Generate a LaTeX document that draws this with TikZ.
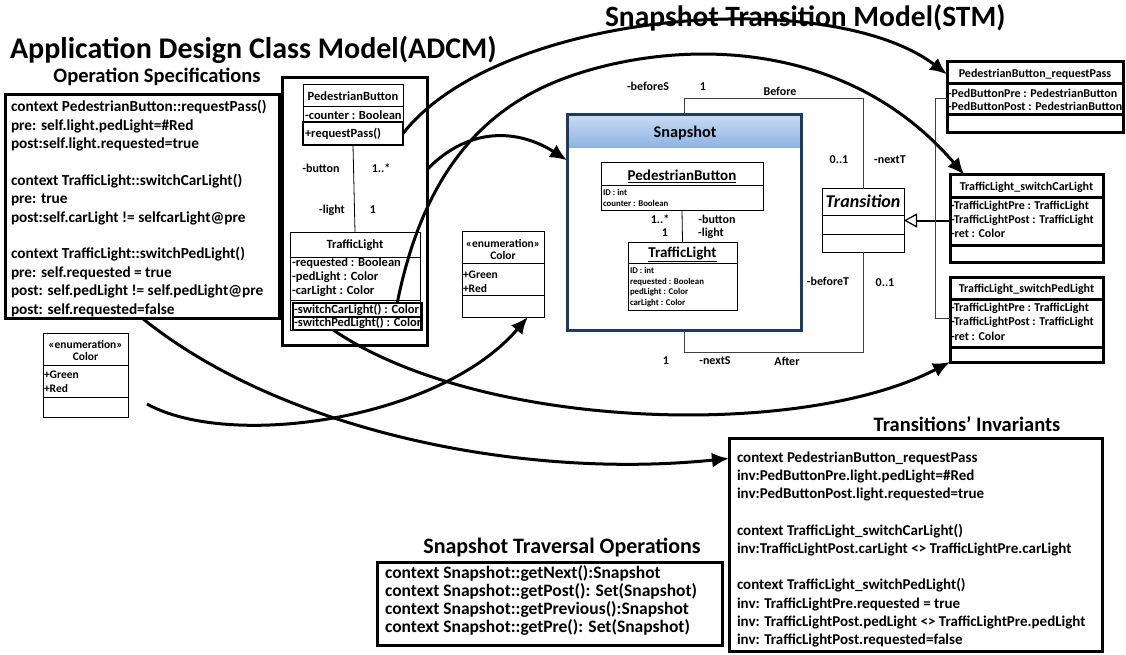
\documentclass[tikz,border=0pt]{standalone}
\usepackage{fontspec}
\setmainfont{Carlito}
\usetikzlibrary{arrows.meta}
\definecolor{navy}{HTML}{1F3A5F}
\definecolor{hdrtop}{HTML}{C9DBF2}
\definecolor{hdrbot}{HTML}{8DB3E2}
\definecolor{lgray}{HTML}{404040}
\newcommand{\myfs}[1]{\fontsize{#1}{#1}\selectfont\bfseries}
\begin{document}
\begin{tikzpicture}[x=1pt,y=-1pt,
  every node/.style={inner sep=0pt, outer sep=0pt},
  bx/.style={draw, anchor=north west, line width=#1},
  tx/.style={font=\myfs{#1}, anchor=base west},
  tc/.style={font=\myfs{#1}, anchor=base},
  arr/.style={line width=3pt, -{Latex[length=17pt,width=15pt]}},
  thinl/.style={line width=0.9pt, lgray}]
\useasboundingbox (0,0) rectangle (1126,655);
% titles
\node[tx=30] (tA) at (10,59) {Application Design Class Model(ADCM)};
\node[tx=29.5] (tS) at (605,27) {Snapshot Transition Model(STM)};
\node[tc=20.5] (tO) at (157,83) {Operation Specifications};
\node[tc=20.5] (tI) at (967,431.5) {Transitions’ Invariants};
\node[tc=22] (tT) at (562,553) {Snapshot Traversal Operations};
% operation specifications
\node[bx=3pt, minimum width=274pt, minimum height=223pt] (ops) at (5,95) {};
\foreach \yy/\tt [count=\i] in {112/{context PedestrianButton::requestPass()},
  130.4/{pre: self.light.pedLight=\#Red},
  148.7/{post:self.light.requested=true},
  185.5/{context TrafficLight::switchCarLight()},
  203.8/{pre: true},
  222.2/{post:self.carLight != selfcarLight@pre},
  258.9/{context TrafficLight::switchPedLight()},
  277.3/{pre: self.requested = true},
  295.6/{post: self.pedLight != self.pedLight@pre},
  314/{post: self.requested=false}}
  \node[tx=15.3] (os\i) at (11,\yy) {\tt};
% ADCM classes
\node[bx=3pt, minimum width=145pt, minimum height=267pt] (adcm) at (282,78) {};
\node[bx=1pt, minimum width=100pt, minimum height=37pt] (pb) at (303,85) {};
\draw[line width=1pt] (303,107) -- (403,107);
\node[bx=2.5pt, minimum width=100pt, minimum height=23pt] (pbm) at (303,122) {};
\node[tc=12.5] (pbn) at (353,100.8) {PedestrianButton};
\node[tx=12.5] (pba) at (305,119.8) {-counter : Boolean};
\node[tx=12.5] (pbo) at (305,137.8) {+requestPass()};
\node[bx=1pt, minimum width=130pt, minimum height=98pt] (tl) at (290,232) {};
\draw[line width=1pt] (290,257) -- (420,257) (290,300) -- (420,300);
\draw[line width=0.8pt] (pbm.south) -- (tl.north);
\node[tc=12] (l1) at (321,172.6) {-button};
\node[tc=12] (l2) at (381,172.6) {1..*};
\node[tc=12] (l3) at (332,213.6) {-light};
\node[tc=12] (l4) at (373,213.6) {1};
\node[tc=12.5] (tln) at (355,248.8) {TrafficLight};
\node[tx=12.5] (tla1) at (292,266.8) {-requested : Boolean};
\node[tx=12.5] (tla2) at (292,280.8) {-pedLight : Color};
\node[tx=12.5] (tla3) at (292,294.8) {-carLight : Color};
\node[bx=2.5pt, minimum width=129pt, minimum height=14pt] (tlm1) at (293,303) {};
\node[bx=2.5pt, minimum width=129pt, minimum height=13pt] (tlm2) at (293,317) {};
\node[tx=12.5] (tlo1) at (294,313.8) {\underline{-switchCarLight() : Color}};
\node[tx=12.5] (tlo2) at (294,326.8) {\underline{-switchPedLight() : Color}};
% enumerations
\node[bx=1pt, minimum width=85pt, minimum height=84pt] (enL) at (43,333) {};
\draw[line width=1pt] (43,365) -- (128,365) (43,397) -- (128,397);
\node[tc=11.5] (enL1) at (85.5,348.5) {«enumeration»};
\node[tc=11.5] (enL2) at (85.5,360.5) {Color};
\node[tx=11.5] (enL3) at (44,378.5) {+Green};
\node[tx=11.5] (enL4) at (44,392) {+Red};
\node[bx=1pt, minimum width=82pt, minimum height=86pt] (enM) at (462,231) {};
\draw[line width=1pt] (462,263) -- (544,263) (462,295) -- (544,295);
\node[tc=11.5] (enM1) at (503,247.5) {«enumeration»};
\node[tc=11.5] (enM2) at (503,259.5) {Color};
\node[tx=11.5] (enM3) at (463,278.5) {+Green};
\node[tx=11.5] (enM4) at (463,292.5) {+Red};
% snapshot
\shade[top color=hdrtop, bottom color=hdrbot] (567,115) rectangle (801,148);
\node[bx=3pt, draw=navy, minimum width=234pt, minimum height=215pt] (snap) at (567,115) {};
\node[tc=16.3] (snapn) at (685,137.9) {Snapshot};
\node[bx=1pt, minimum width=162pt, minimum height=47pt] (ipb) at (601,163) {};
\draw[line width=1pt] (601,186) -- (763,186);
\node[tc=15] (ipbn) at (682,180.5) {\underline{PedestrianButton}};
\node[tx=8.8] (ipb1) at (603,195.6) {ID : int};
\node[tx=8.8] (ipb2) at (603,206.6) {counter : Boolean};
\node[bx=1pt, minimum width=109pt, minimum height=68pt] (itl) at (628,242) {};
\draw[line width=1pt] (628,263) -- (737,263);
\node[tc=15] (itln) at (682.5,257.5) {\underline{TrafficLight}};
\node[tx=8.8] (itl1) at (630,273.6) {ID : int};
\node[tx=8.8] (itl2) at (630,284.1) {requested : Boolean};
\node[tx=8.8] (itl3) at (630,294.6) {pedLight : Color};
\node[tx=8.8] (itl4) at (630,305.1) {carLight : Color};
\draw[line width=0.8pt] (ipb.south) -- (itl.north);
\node[tc=12] (s1) at (660,223.6) {1..*};
\node[tc=12] (s2) at (665,236.6) {1};
\node[tc=12] (s3) at (717,223.6) {-button};
\node[tc=12] (s4) at (711,236.6) {-light};
% transition
\node[bx=1pt, minimum width=82pt, minimum height=63pt] (tr) at (822,189) {};
\draw[line width=1pt] (822,215) -- (904,215) (822,234) -- (904,234);
\node[font=\fontsize{18}{18}\selectfont\bfseries\itshape, anchor=base] (trn) at (863,207.4) {Transition};
\draw[thinl] (snap.north) -- ++(0,-17) -| (tr.north);
\draw[thinl] (snap.south) -- ++(0,22) -| (tr.south);
\node[tc=12] (a1) at (648,90.6) {-beforeS};
\node[tc=12] (a2) at (703,90.6) {1};
\node[tc=12] (a3) at (780,95.6) {Before};
\node[tc=12] (a4) at (839,163.6) {0..1};
\node[tc=12] (a5) at (890,163.6) {-nextT};
\node[tc=12] (a6) at (828,285.6) {-beforeT};
\node[tc=12] (a7) at (885,286.6) {0..1};
\node[tc=12] (a8) at (666,364.6) {1};
\node[tc=12] (a9) at (715,364.6) {-nextS};
\node[tc=12] (a10) at (787,365.6) {After};
% transition subclasses
\node[bx=3pt, minimum width=176pt, minimum height=71pt] (prp) at (947,62) {};
\draw[line width=3pt] (947,84) -- (1123,84) (947,115) -- (1123,115);
\node[tc=12] (prpn) at (1035,77.6) {PedestrianButton\_requestPass};
\node[tx=12] (prp1) at (948,97.6) {-PedButtonPre : PedestrianButton};
\node[tx=12] (prp2) at (948,110.6) {-PedButtonPost : PedestrianButton};
\node[bx=3pt, minimum width=153pt, minimum height=87pt] (tlc) at (950,175) {};
\draw[line width=3pt] (950,197) -- (1103,197) (950,245) -- (1103,245);
\node[tc=12] (tlcn) at (1026.5,190.6) {TrafficLight\_switchCarLight};
\node[tx=12] (tlc1) at (951,209.6) {-TrafficLightPre : TrafficLight};
\node[tx=12] (tlc2) at (951,223.6) {-TrafficLightPost : TrafficLight};
\node[tx=12] (tlc3) at (951,237.6) {-ret : Color};
\node[bx=3pt, minimum width=153pt, minimum height=85pt] (tlp) at (950,277) {};
\draw[line width=3pt] (950,299) -- (1103,299) (950,347) -- (1103,347);
\node[tc=12] (tlpn) at (1026.5,292.6) {TrafficLight\_switchPedLight};
\node[tx=12] (tlp1) at (951,311.6) {-TrafficLightPre : TrafficLight};
\node[tx=12] (tlp2) at (951,325.6) {-TrafficLightPost : TrafficLight};
\node[tx=12] (tlp3) at (951,340.6) {-ret : Color};
% generalization tree
\coordinate (tj) at (935,220.5);
\coordinate (tj1) at (935,98);
\coordinate (tj3) at (935,318);
\draw[line width=2pt, -{Triangle[open, length=13pt, width=14pt, line width=1.2pt]}] (tlc.west |- tj) -- (tr.east);
\draw[thinl] (tj1 -| prp.west) -- (tj1) -- (tj3) -- (tj3 -| tlp.west);
% invariants
\node[bx=3pt, minimum width=373pt, minimum height=213pt] (inv) at (729,438) {};
\foreach \yy/\tt [count=\i] in {462.5/{context PedestrianButton\_requestPass},
  480.7/{inv:PedButtonPre.light.pedLight=\#Red},
  498.9/{inv:PedButtonPost.light.requested=true},
  535.3/{context TrafficLight\_switchCarLight()},
  553.5/{inv:TrafficLightPost.carLight <> TrafficLightPre.carLight},
  589.9/{context TrafficLight\_switchPedLight()},
  608.1/{inv: TrafficLightPre.requested = true},
  626.3/{inv: TrafficLightPost.pedLight <> TrafficLightPre.pedLight},
  644.5/{inv: TrafficLightPost.requested=false}}
  \node[tx=15] (iv\i) at (737,\yy) {\tt};
% traversal
\node[bx=3pt, minimum width=345pt, minimum height=83pt] (trv) at (377,562) {};
\foreach \yy/\tt [count=\i] in {578.4/{context Snapshot::getNext():Snapshot},
  596.4/{context Snapshot::getPost(): Set(Snapshot)},
  614.4/{context Snapshot::getPrevious():Snapshot},
  632.4/{context Snapshot::getPre(): Set(Snapshot)}}
  \node[tx=17.5] (tv\i) at (385,\yy) {\tt};
% connectors
\coordinate (bS) at (147,404);
\draw[arr] (ops.south) .. controls (280,430) and (520,480) .. (inv.west |- iv1.west);
\draw[arr] (bS) .. controls (230,450) and (440,420) .. (enM.-60);
\draw[arr] (tlm2.-165) .. controls (480,430) and (800,440) .. (tlp.south west);
\draw[arr] (pbm.east) .. controls (500,10) and (830,-15) .. (prp.west |- prpn);
\draw[arr] (tlm1.10) .. controls (420,190) and (470,115) .. (560,80) .. controls (660,41) and (840,30) .. (tlc.145);
\draw[arr] (adcm.30) .. controls (470,125) and (520,130) .. (snap.152);
\end{tikzpicture}
\end{document}
